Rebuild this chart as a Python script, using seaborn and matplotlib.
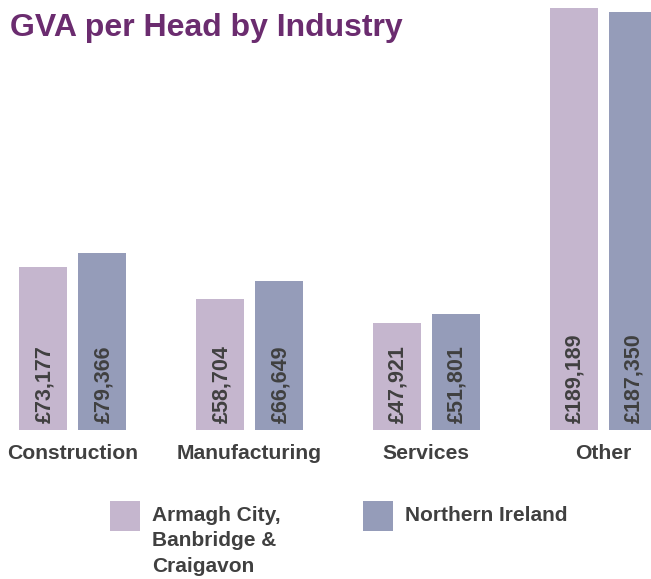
import matplotlib
matplotlib.use('Agg')
import matplotlib.pyplot as plt
from matplotlib.patches import Rectangle
import seaborn as sns
import pandas as pd

# ---------- data ----------
industries = ['Construction', 'Manufacturing', 'Services', 'Other']
abc_values = [73177, 58704, 47921, 189189]
ni_values = [79366, 66649, 51801, 187350]
areas = ['Armagh City,\nBanbridge &\nCraigavon', 'Northern Ireland']
colours = ['#C5B6CE', '#959CB9']

df = pd.DataFrame({
    'industry': industries * 2,
    'value': abc_values + ni_values,
    'area': [areas[0]] * len(industries) + [areas[1]] * len(industries),
})

# ---------- style ----------
sns.set_style('white')
plt.rcParams['font.family'] = ['Liberation Sans', 'DejaVu Sans']
text_grey = '#404040'

W, H = 651, 579
fig = plt.figure(figsize=(W / 100, H / 100), dpi=100)
ax = fig.add_axes([0, 149 / H, 1, 430 / H])

sns.barplot(data=df, x='industry', y='value', hue='area', hue_order=areas,
            palette=colours, saturation=1, width=0.667, gap=0.19,
            linewidth=0, legend=False, ax=ax)

# value labels at the foot of each bar
for container in ax.containers:
    for bar in container:
        v = bar.get_height()
        ax.annotate(f'£{v:,.0f}', xy=(bar.get_x() + bar.get_width() / 2, 0),
                    xytext=(1, 5), textcoords='offset points', rotation=90,
                    ha='center', va='bottom', fontsize=15.5, fontweight='bold',
                    color=text_grey)

ax.set_ylim(0, 192775)
ax.set_xlim(-0.41, 3.27)
ax.set_xlabel('')
ax.set_ylabel('')
ax.set_yticks([])
sns.despine(ax=ax, left=True, bottom=True)
ax.tick_params(axis='x', length=0, pad=10, labelsize=15.2, labelcolor=text_grey)
for lbl in ax.get_xticklabels():
    lbl.set_fontweight('bold')

# title
fig.text(10 / W, 1 - 28 / H, 'GVA per Head by Industry', ha='left', va='center',
         fontsize=23, fontweight='bold', color='#6B2C6F')

# legend (drawn by hand so the swatch lines up with the first text line)
legend_x = [110, 363]
for x0, col, lab in zip(legend_x, colours, areas):
    fig.add_artist(Rectangle((x0 / W, (H - 531) / H), 30 / W, 30 / H,
                             transform=fig.transFigure, color=col, lw=0))
    fig.text((x0 + 42) / W, 1 - 506 / H, lab, ha='left', va='top',
             fontsize=15, fontweight='bold', color=text_grey, linespacing=1.42)

fig.savefig('out.png', dpi=100)
